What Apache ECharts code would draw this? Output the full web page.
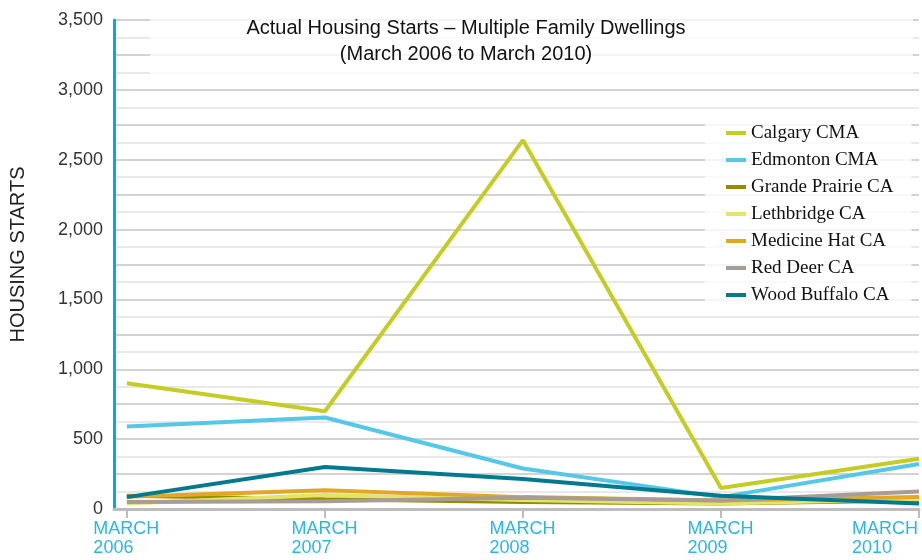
<!DOCTYPE html>
<html>
<head>
<meta charset="utf-8">
<script src="https://cdn.jsdelivr.net/npm/echarts@6/dist/echarts.min.js"></script>
<style>
  html, body { margin: 0; padding: 0; background: #fff; }
  #box1 { width: 922px; height: 560px; }
</style>
</head>
<body>
<div id="box1"></div>
<script>
// 数据
var years = ['2006', '2007', '2008', '2009', '2010'];
var seriesNames = ['Calgary CMA', 'Edmonton CMA', 'Grande Prairie CA', 'Lethbridge CA', 'Medicine Hat CA', 'Red Deer CA', 'Wood Buffalo CA'];
var calgary = [900, 700, 2640, 150, 360];
var edmonton = [590, 655, 290, 85, 322];
var grandePrairie = [95, 70, 50, 40, 60];
var lethbridge = [40, 100, 65, 40, 70];
var medicineHat = [88, 135, 85, 60, 85];
var redDeer = [50, 55, 80, 60, 125];
var woodBuffalo = [85, 300, 215, 95, 40];
var yTicks = [0, 500, 1000, 1500, 2000, 2500, 3000, 3500];

var colors = ['#c3cd24', '#55c8e8', '#958c00', '#e3e56a', '#e2a725', '#a89c98', '#007a8c'];
var allData = [calgary, edmonton, grandePrairie, lethbridge, medicineHat, redDeer, woodBuffalo];

var myChart1 = echarts.init(document.getElementById('box1'));

var option1 = {
  animation: false,
  color: colors,
  title: {
    text: 'Actual Housing Starts \u2013 Multiple Family Dwellings\n(March 2006 to March 2010)',
    left: 466,
    textAlign: 'center',
    top: 10,
    padding: [5, 0, 5, 0],
    textStyle: {
      fontFamily: 'Liberation Sans',
      fontSize: 20,
      fontWeight: 'normal',
      color: '#111',
      lineHeight: 26
    }
  },
  legend: {
    orient: 'vertical',
    left: 705,
    top: 115,
    padding: [8, 18, 4, 21],
    backgroundColor: 'rgba(255,255,255,0.8)',
    icon: 'rect',
    itemWidth: 20,
    itemHeight: 4,
    itemGap: 7,
    textStyle: {
      fontFamily: 'Liberation Serif',
      fontSize: 19,
      color: '#111',
      lineHeight: 20
    },
    data: seriesNames
  },
  graphic: [{
    type: 'rect',
    z: 1,
    shape: { x: 150, y: 0, width: 763, height: 81 },
    style: { fill: 'rgba(255,255,255,0.75)' }
  }],
  grid: { left: 112, right: 1, top: 20, bottom: 51 },
  xAxis: {
    type: 'value',
    min: -0.065,
    max: 4,
    splitLine: { show: false },
    axisLine: { show: true, onZero: false, lineStyle: { color: '#bdbdbd', width: 3 } },
    axisTick: {
      show: true,
      customValues: [0, 1, 2, 3, 4],
      length: 9,
      lineStyle: { color: '#bdbdbd', width: 2 }
    },
    axisLabel: {
      customValues: [0, 1, 2, 3, 4],
      formatter: function (v) { return '{a|MARCH}\n{a|' + years[Math.round(v)] + '}'; },
      alignMaxLabel: 'right',
      margin: 11,
      rich: {
        a: {
          width: 67,
          align: 'left',
          fontFamily: 'Liberation Sans',
          fontSize: 18,
          lineHeight: 19,
          color: '#2ab7e4'
        }
      }
    }
  },
  yAxis: {
    type: 'value',
    min: 0,
    max: 3500,
    interval: 250,
    name: 'HOUSING STARTS',
    nameLocation: 'middle',
    nameGap: 86,
    nameTextStyle: {
      fontFamily: 'Liberation Sans',
      fontSize: 20,
      color: '#222',
      padding: [0, 0, 0, 20]
    },
    axisLine: { show: true, onZero: false, lineStyle: { color: '#00ade0', width: 3 } },
    axisTick: { show: false },
    minorTick: { show: false, splitNumber: 2 },
    axisLabel: {
      margin: 11,
      fontFamily: 'Liberation Sans',
      fontSize: 18,
      color: '#333',
      formatter: function (v) {
        return yTicks.indexOf(v) >= 0 ? v.toLocaleString('en-US') : '';
      }
    },
    splitLine: { show: true, lineStyle: { color: '#c4c4c4', width: 1.5 } },
    minorSplitLine: { show: true, lineStyle: { color: '#e2e2e2', width: 1.5 } }
  },
  series: seriesNames.map(function (name, i) {
    return {
      name: name,
      type: 'line',
      symbol: 'none',
      lineStyle: { width: 4 },
      data: allData[i].map(function (v, j) { return [j, v]; })
    };
  })
};

myChart1.setOption(option1);
</script>
</body>
</html>
